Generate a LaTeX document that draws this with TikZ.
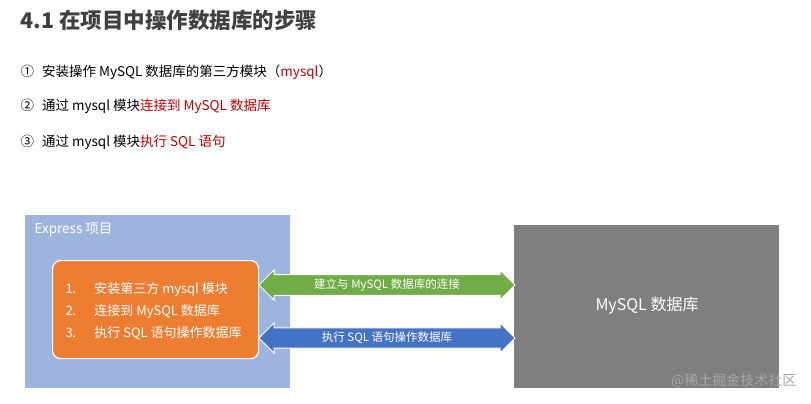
\documentclass[tikz,border=0pt]{standalone}
\usepackage{fontspec}
\setmainfont{Noto Sans CJK SC}
\usetikzlibrary{shapes.arrows}
\definecolor{expblue}{HTML}{9DB5DE}
\definecolor{orng}{HTML}{ED7D31}
\definecolor{gry}{HTML}{7F7F7F}
\definecolor{grn}{HTML}{70AD47}
\definecolor{blu}{HTML}{4472C4}
\definecolor{redt}{HTML}{C00000}
\definecolor{titlec}{HTML}{404040}
\tikzset{
  listtxt/.style={anchor=west,font=\fontsize{13.5}{16}\selectfont,text=black},
  darrow/.style={double arrow,draw=white,line width=1pt,minimum height=256pt,minimum width=30pt,double arrow head extend=3pt,inner sep=0pt,text=white,font=\fontsize{11.5}{13}\selectfont},
  box/.style={draw=none,anchor=north west,inner sep=0pt}
}
\begin{document}
\begin{tikzpicture}[x=1pt,y=-1pt]
\useasboundingbox (0,0) rectangle (811,404);
\fill[white] (0,0) rectangle (811,404);
\node[anchor=west,font=\bfseries\fontsize{21.5}{24}\selectfont,text=titlec] (title) at (17,20) {4.1 在项目中操作数据库的步骤};
\node[listtxt] (l1) at (17,72) {①\hspace{8pt}安装操作 MySQL 数据库的第三方模块（\textcolor{redt}{mysql}）};
\node[listtxt] (l2) at (17,106) {②\hspace{8pt}通过 mysql 模块\textcolor{redt}{连接到 MySQL 数据库}};
\node[listtxt] (l3) at (17,142) {③\hspace{8pt}通过 mysql 模块\textcolor{redt}{执行 SQL 语句}};
\fill[expblue] (25,215) rectangle (290,388);
\node[anchor=west,text=white,font=\fontsize{13.5}{15}\selectfont] (exl) at (31,230) {Express 项目};
\node[box,fill=orng,draw=white,line width=1.2pt,rounded corners=8pt,minimum width=206pt,minimum height=98pt] (ob) at (52,260) {};
\node[anchor=west,text=white,font=\fontsize{13}{22}\selectfont,align=left] (obt) at (62,311) {1.\hspace{18pt}安装第三方 mysql 模块\\2.\hspace{18pt}连接到 MySQL 数据库\\3.\hspace{18pt}执行 SQL 语句操作数据库};
\node[box,fill=gry,minimum width=265pt,minimum height=163pt] (db) at (514,225) {};
\node[text=white,font=\fontsize{16}{18}\selectfont] (dbt) at (647,306) {MySQL 数据库};
\node[darrow,fill=grn] (a1) at (387,285) {建立与 MySQL 数据库的连接};
\node[darrow,fill=blu] (a2) at (387,338) {执行 SQL 语句操作数据库};
\node[anchor=east,text=gray!70,font=\fontsize{14}{16}\selectfont] (wm) at (800,381) {@稀土掘金技术社区};
\end{tikzpicture}
\end{document}
